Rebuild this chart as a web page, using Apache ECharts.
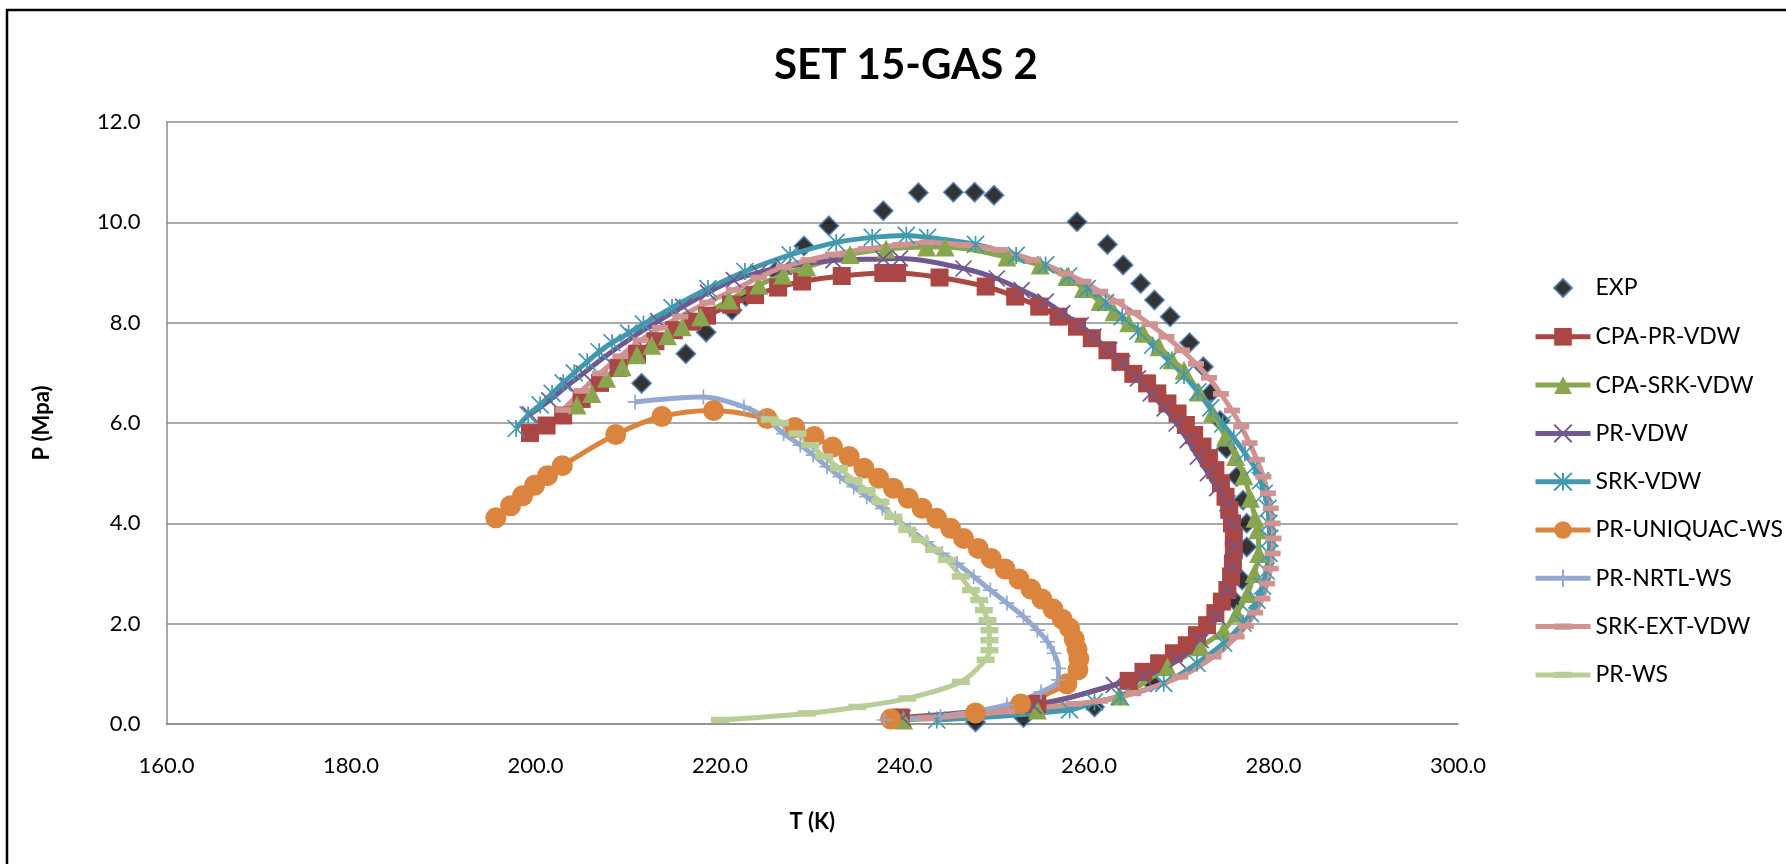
<!DOCTYPE html>
<html><head><meta charset="utf-8">
<script src="https://cdn.jsdelivr.net/npm/echarts@6/dist/echarts.min.js"></script>
<style>html,body{margin:0;padding:0;background:#fff}#c{width:1786px;height:864px}</style>
</head><body><div id="c"></div>
<script>
const chartTitle = 'SET 15-GAS 2';
const xTitle = 'T (K)';
const yTitle = 'P (Mpa)';
const seriesNames = ['EXP','CPA-PR-VDW','CPA-SRK-VDW','PR-VDW','SRK-VDW','PR-UNIQUAC-WS','PR-NRTL-WS','SRK-EXT-VDW','PR-WS'];

const expData = [[211.5,6.79],[216.3,7.38],[218.5,7.81],[221.3,8.25],[222.8,8.52],[226.0,9.02],[229.1,9.53],[231.8,9.93],[237.7,10.23],[241.5,10.59],[245.3,10.60],[247.6,10.60],[249.7,10.54],[258.7,10.01],[262.0,9.56],[263.7,9.15],[265.6,8.78],[267.1,8.45],[268.8,8.12],[270.9,7.60],[272.4,7.12],[273.2,6.60],[274.2,6.05],[274.9,5.49],[276.0,4.93],[276.7,4.46],[277.1,4.00],[277.1,3.53],[276.6,2.87],[275.7,2.47],[266.7,0.84],[260.6,0.34],[252.9,0.13],[247.7,0.04]];

const cpaPrVdw = [[199.4,5.80],[201.2,5.95],[203.0,6.15],[205.0,6.48],[207.0,6.80],[209.0,7.10],[211.0,7.38],[213.0,7.63],[215.0,7.85],[217.0,8.02],[218.6,8.14],[221.2,8.36],[223.8,8.55],[226.3,8.70],[228.9,8.82],[233.2,8.93],[237.7,8.99],[239.2,8.99],[243.8,8.90],[248.8,8.72],[252.0,8.52],[254.6,8.32],[256.7,8.12],[258.7,7.92],[260.3,7.69],[262.0,7.45],[263.4,7.22],[264.8,6.98],[266.3,6.79],[267.4,6.59],[268.5,6.39],[269.6,6.19],[270.5,5.96],[271.4,5.76],[272.3,5.53],[273.0,5.30],[273.7,5.06],[274.3,4.80],[274.8,4.53],[275.2,4.27],[275.5,4.00],[275.7,3.73],[275.7,3.47],[275.6,3.20],[275.4,2.94],[275.0,2.67],[274.4,2.44],[273.7,2.21],[272.8,1.97],[271.7,1.77],[270.6,1.57],[269.2,1.41],[267.6,1.21],[265.9,1.04],[264.3,0.86],[254.4,0.40],[239.6,0.13]];

const cpaSrkVdw = [[204.5,6.36],[206.1,6.59],[207.7,6.89],[209.4,7.12],[211.0,7.36],[212.6,7.55],[214.3,7.74],[215.9,7.92],[217.9,8.12],[221.0,8.45],[224.2,8.75],[226.8,8.95],[229.4,9.11],[234.1,9.36],[238.0,9.47],[242.4,9.51],[244.4,9.51],[251.1,9.31],[254.7,9.15],[257.6,8.92],[259.4,8.68],[261.2,8.42],[262.7,8.22],[264.3,8.00],[265.9,7.79],[267.6,7.52],[269.0,7.26],[270.3,7.05],[271.9,6.62],[273.4,6.20],[274.8,5.72],[275.9,5.33],[276.8,4.95],[277.5,4.50],[278.0,4.10],[278.3,3.87],[278.4,3.40],[277.9,3.00],[277.2,2.60],[276.0,2.21],[274.6,1.87],[272.1,1.54],[268.5,1.14],[263.3,0.56],[254.4,0.28],[239.9,0.08]];

const prVdw = [[199.4,6.17],[201.5,6.45],[203.5,6.75],[205.2,6.99],[207.5,7.32],[210.6,7.72],[213.3,8.03],[216.0,8.32],[218.7,8.60],[221.5,8.85],[224.2,9.00],[226.9,9.11],[232.3,9.24],[237.7,9.27],[239.5,9.28],[246.4,9.08],[250.0,8.88],[252.7,8.65],[255.3,8.42],[257.1,8.19],[259.1,7.95],[260.5,7.72],[262.2,7.45],[263.6,7.19],[265.3,6.89],[266.7,6.59],[268.2,6.29],[269.5,5.99],[270.7,5.66],[271.8,5.33],[272.9,5.00],[273.9,4.70],[275.0,4.40],[275.5,4.00],[275.7,3.53],[275.5,3.14],[275.0,2.67],[273.9,2.14],[272.1,1.67],[269.6,1.28],[265.9,0.94],[262.7,0.78],[254.0,0.36],[239.8,0.12]];

const srkVdw = [[197.9,5.89],[199.2,6.16],[200.5,6.36],[201.8,6.59],[203.0,6.80],[204.2,7.00],[205.6,7.22],[206.9,7.42],[208.3,7.60],[210.1,7.79],[211.7,7.97],[214.8,8.30],[218.7,8.68],[222.7,9.02],[227.6,9.35],[232.6,9.60],[236.5,9.70],[240.2,9.74],[242.5,9.70],[247.7,9.56],[252.1,9.34],[255.3,9.15],[257.8,8.93],[259.8,8.68],[261.8,8.40],[263.6,8.12],[265.3,7.83],[266.9,7.55],[268.6,7.25],[270.3,6.95],[271.8,6.62],[273.2,6.30],[274.5,5.98],[275.7,5.70],[276.9,5.40],[277.9,5.13],[278.6,4.85],[279.0,4.60],[279.4,4.30],[279.5,4.00],[279.6,3.70],[279.5,3.40],[279.2,3.05],[278.8,2.75],[278.2,2.47],[277.5,2.20],[276.7,2.01],[274.6,1.61],[271.7,1.21],[268.1,0.81],[263.4,0.54],[260.6,0.44],[257.9,0.28],[243.5,0.08]];

const prUniquacWs = [[195.7,4.11],[197.3,4.35],[198.6,4.55],[199.9,4.76],[201.3,4.95],[202.9,5.15],[208.7,5.77],[213.7,6.13],[219.3,6.25],[225.1,6.09],[228.1,5.91],[230.2,5.73],[232.2,5.52],[234.0,5.33],[235.6,5.10],[237.2,4.90],[238.8,4.70],[240.4,4.50],[241.9,4.30],[243.5,4.10],[245.0,3.90],[246.4,3.70],[248.0,3.50],[249.4,3.30],[250.9,3.09],[252.4,2.89],[253.7,2.69],[254.9,2.49],[256.1,2.29],[257.1,2.09],[257.9,1.91],[258.4,1.69],[258.7,1.49],[258.9,1.30],[258.8,1.08],[257.6,0.80],[252.6,0.40],[247.7,0.22],[238.5,0.10]];

const prNrtlWs = [[210.8,6.42],[218.2,6.52],[222.6,6.32],[224.7,6.13],[226.9,5.79],[228.7,5.56],[230.1,5.36],[231.6,5.13],[233.0,4.93],[234.5,4.73],[235.9,4.53],[237.6,4.30],[239.0,4.10],[240.6,3.87],[242.4,3.63],[244.1,3.40],[245.7,3.20],[247.5,2.94],[249.3,2.67],[251.1,2.41],[252.9,2.14],[254.4,1.87],[255.5,1.64],[256.2,1.41],[256.7,1.11],[256.7,0.88],[254.8,0.64],[251.1,0.38],[243.9,0.15],[237.8,0.08]];

const srkExtVdw = [[203.0,6.26],[205.0,6.64],[207.0,6.99],[209.2,7.33],[211.4,7.65],[213.5,7.90],[215.7,8.12],[218.6,8.40],[221.5,8.65],[224.2,8.90],[226.9,9.11],[229.6,9.25],[232.3,9.36],[235.8,9.47],[239.5,9.55],[242.5,9.60],[246.4,9.55],[250.3,9.45],[253.9,9.25],[257.5,8.98],[259.4,8.82],[261.2,8.62],[263.0,8.42],[264.8,8.20],[266.6,7.97],[268.4,7.72],[270.1,7.45],[271.6,7.18],[273.0,6.90],[274.3,6.58],[275.5,6.25],[276.5,5.93],[277.4,5.60],[278.2,5.27],[278.9,4.93],[279.4,4.60],[279.7,4.30],[279.9,4.00],[280.0,3.70],[279.9,3.40],[279.7,3.10],[279.3,2.80],[278.8,2.50],[278.0,2.22],[277.0,1.95],[276.0,1.74],[273.5,1.34],[269.9,0.94],[264.8,0.61],[261.2,0.46],[258.4,0.40],[251.1,0.25],[242.4,0.11]];

const prWs = [[225.4,6.07],[226.5,6.00],[228.4,5.79],[229.8,5.56],[231.3,5.33],[232.9,5.10],[234.5,4.86],[235.9,4.66],[237.4,4.43],[238.8,4.13],[240.3,3.87],[241.7,3.67],[243.2,3.47],[244.6,3.27],[246.1,2.94],[247.2,2.67],[248.1,2.47],[248.6,2.27],[249.0,2.07],[249.2,1.87],[249.2,1.67],[249.2,1.47],[248.8,1.28],[246.1,0.84],[240.3,0.51],[234.9,0.34],[229.4,0.21],[220.0,0.08]];

const xTicks = {min:160, max:300, interval:20};
const yTicks = {min:0, max:12, interval:2};

const FONT = 'Lato';
const X_PATH = 'path://M0,0L10,10M10,0L0,10';
const STAR_PATH = 'path://M0,0L10,10M10,0L0,10M5,0L5,10';
const PLUS_PATH = 'path://M5,0L5,10M0,5L10,5';
const DASH_PATH = 'path://M0,-7M14,7M0,-2.5L14,-2.5L14,2.5L0,2.5Z';

function lineSeries(name, data, color, symbol, size, stroke) {
  return {
    name, type:'line', data, smooth:0.35, showSymbol:true,
    symbol, symbolSize:size,
    lineStyle:{color, width:5},
    itemStyle: stroke ? {color:'rgba(0,0,0,0)', borderColor:color, borderWidth:1.7}
                      : {color, borderWidth:0},
    emphasis:{disabled:true}
  };
}

const series = [
  {name:'EXP', type:'scatter', data:expData, symbol:'diamond', symbolSize:19,
   itemStyle:{color:'#000', borderColor:'#4572A7', borderWidth:1.8}, emphasis:{disabled:true}},
  lineSeries('CPA-PR-VDW', cpaPrVdw, '#AA4643', 'rect', 18, false),
  lineSeries('CPA-SRK-VDW', cpaSrkVdw, '#89A54E', 'triangle', 19, false),
  lineSeries('PR-VDW', prVdw, '#71588F', X_PATH, 16, true),
  lineSeries('SRK-VDW', srkVdw, '#4198AF', STAR_PATH, 17, true),
  lineSeries('PR-UNIQUAC-WS', prUniquacWs, '#DB843D', 'circle', 21, false),
  lineSeries('PR-NRTL-WS', prNrtlWs, '#93A9CF', PLUS_PATH, 15, true),
  lineSeries('SRK-EXT-VDW', srkExtVdw, '#D19392', DASH_PATH, 16, false),
  lineSeries('PR-WS', prWs, '#B9CD96', DASH_PATH, 18, false)
];

const chart = echarts.init(document.getElementById('c'));
chart.setOption({
  animation:false,
  backgroundColor:'#fff',
  textStyle:{fontFamily:FONT},
  title:{text:chartTitle, left:769, top:39,
    textStyle:{fontFamily:FONT, fontSize:42, fontWeight:'bold', color:'#000'}},
  grid:{left:166.5, right:328, top:122, bottom:140, containLabel:false},
  legend:{orient:'vertical', left:1528, top:271, itemWidth:55, itemHeight:22, itemGap:25.3,
    textStyle:{fontFamily:FONT, fontSize:23, color:'#000', lineHeight:22},
    lineStyle:{width:5},
    data:[{name:'EXP', icon:'path://M0,0M22,22M11,2L20,11L11,20L2,11Z'}].concat(seriesNames.slice(1).map(n=>({name:n})))},
  xAxis:{type:'value', min:xTicks.min, max:xTicks.max, interval:xTicks.interval,
    name:xTitle, nameLocation:'middle', nameGap:87,
    nameTextStyle:{fontFamily:FONT, fontSize:22, fontWeight:'bold', color:'#000'},
    axisLine:{show:true, onZero:false, lineStyle:{color:'#8c8c8c', width:1.5}},
    axisTick:{show:false},
    axisLabel:{fontFamily:FONT, fontSize:22, color:'#000', margin:31, formatter:v=>v.toFixed(1)},
    splitLine:{show:false}},
  yAxis:{type:'value', min:yTicks.min, max:yTicks.max, interval:yTicks.interval,
    name:yTitle, nameLocation:'middle', nameGap:114,
    nameTextStyle:{fontFamily:FONT, fontSize:22, fontWeight:'bold', color:'#000'},
    axisLine:{show:true, lineStyle:{color:'#8c8c8c', width:1.5}},
    axisTick:{show:false},
    axisLabel:{fontFamily:FONT, fontSize:22, color:'#000', margin:26, formatter:v=>v.toFixed(1)},
    splitLine:{show:true, lineStyle:{color:'#8c8c8c', width:1.5}}},
  graphic:[{type:'rect', silent:true, z:-10,
    shape:{x:7, y:10, width:1800, height:900}, style:{fill:'none', stroke:'#000', lineWidth:2.5}}],
  series
});
</script></body></html>
